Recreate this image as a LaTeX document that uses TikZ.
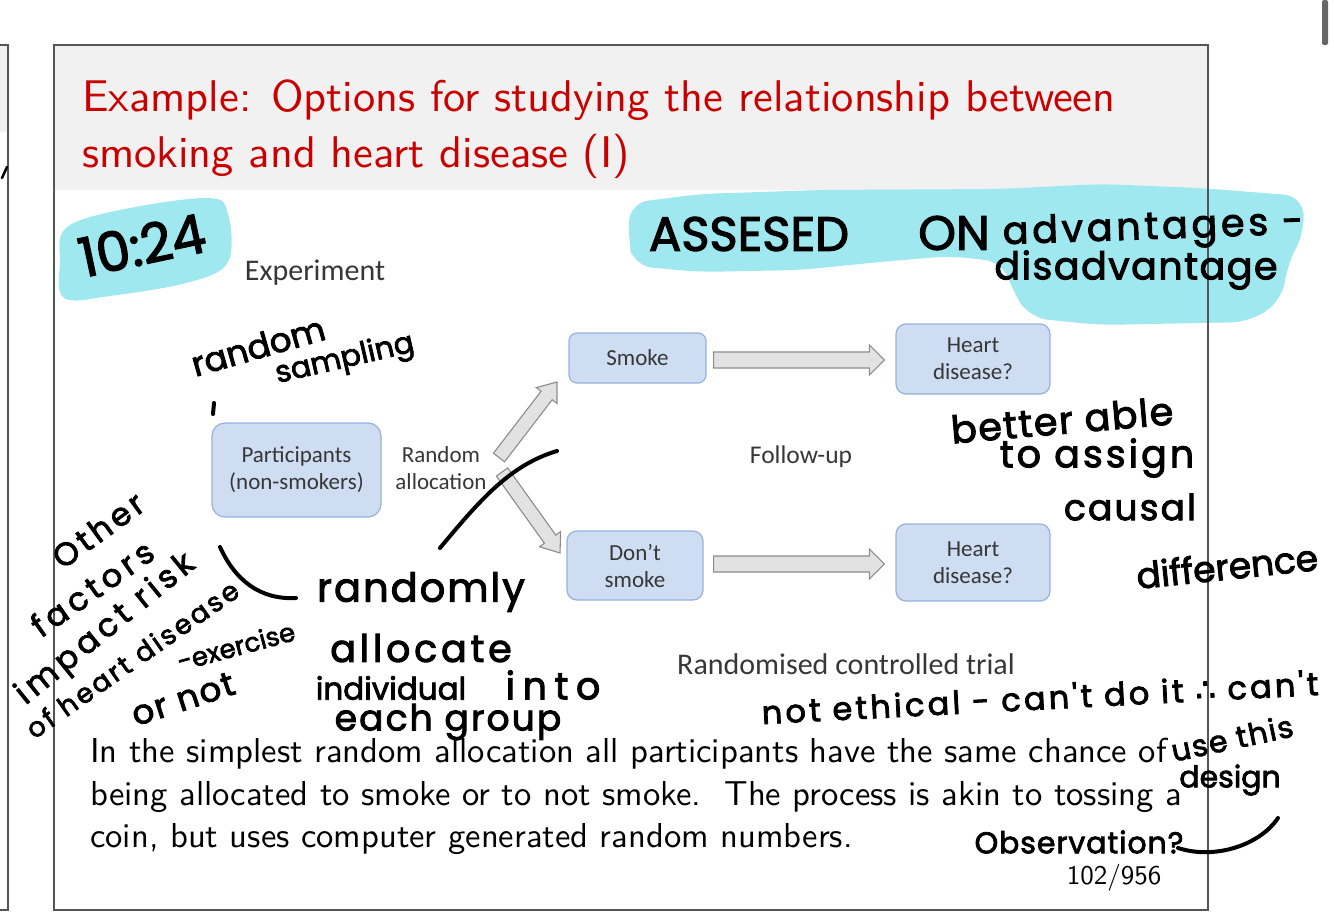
\documentclass[tikz,border=0pt]{standalone}
\usepackage{fontspec}
\usetikzlibrary{calc}
\newfontfamily\carl{Carlito}
\newfontfamily\hand{Poppins}[FakeBold=2.5]
\newfontfamily\dvs{DejaVu Sans}[FakeBold=2.5]
\newfontfamily\lmsten{lmsans10-regular.otf}
\definecolor{titlered}{RGB}{200,0,0}
\definecolor{band}{RGB}{241,241,241}
\definecolor{frame}{RGB}{85,85,85}
\definecolor{boxfill}{RGB}{206,221,242}
\definecolor{boxline}{RGB}{150,178,218}
\definecolor{arrfill}{RGB}{226,226,226}
\definecolor{arrline}{RGB}{140,140,140}
\definecolor{diagtext}{RGB}{55,55,55}
\definecolor{hilite}{RGB}{160,232,240}
\newcommand\blockarr[5]{%
  \coordinate (tmpH) at ($(#2)!#5!(#1)$);
  \draw[blockarrow] ($(#1)!#3!90:(#2)$) -- ($(tmpH)!#3!90:(#2)$) -- ($(tmpH)!#4!90:(#2)$) -- (#2)
     -- ($(tmpH)!#4!-90:(#2)$) -- ($(tmpH)!#3!-90:(#2)$) -- ($(#1)!#3!-90:(#2)$) -- cycle;}
\newcommand\ls[1]{\addfontfeature{LetterSpace=#1}}
\begin{document}
\begin{tikzpicture}[x=1pt,y=-1pt,
  box/.style={draw=boxline, fill=boxfill, line width=1.2pt, align=center, inner sep=0pt,
     text=diagtext, font=\carl\fontsize{23}{27}\selectfont},
  dlabel/.style={text=diagtext, align=center, inner sep=0pt},
  blockarrow/.style={fill=arrfill, draw=arrline, line width=1.1pt, line join=miter},
  hw/.style={font=\hand\fontsize{#1}{#1}\selectfont, inner sep=0pt, text=black},
  hw/.default=34,
  ink/.style={line width=4pt, line cap=round, black},
  titletext/.style={anchor=base west, inner sep=0pt, text=titlered, font=\lmsten\fontsize{44.4}{50}\selectfont},
  body/.style={anchor=base west, inner sep=0pt, font=\lmsten\fontsize{34.6}{40}\selectfont}]
\useasboundingbox (0,0) rectangle (1334,920);
\fill[white] (0,0) rectangle (1334,920);
% neighbouring slide at left and scrollbar
\fill[band] (0,45) rectangle (8,132);
\draw[frame, line width=1.2pt] (0,45) -- (8,45) -- (8,910) -- (0,910);
\fill[gray!80!black, rounded corners=2pt] (1322,0) rectangle (1328,45);
% slide
\fill[band] (54,45) rectangle (1208,190);
\node[titletext] (t1) at (82,112) {Example: Options for studying the relationship between};
\node[titletext] (t2) at (82,168) {smoking and heart disease (I)};
% diagram
\node[dlabel, font=\carl\fontsize{30}{34}\selectfont] (exp) at (315,273) {Experiment};
\node[box, rounded corners=13pt, minimum width=169pt, minimum height=94pt] (part) at (296.5,470) {Participants\\(non-smokers)};
\node[dlabel, font=\carl\fontsize{23}{27}\selectfont] (ralloc) at (441,468) {Random\\allocation};
\node[box, rounded corners=8pt, minimum width=137pt, minimum height=50pt] (smoke) at (637.5,358) {Smoke};
\node[box, rounded corners=10pt, minimum width=154pt, minimum height=70pt] (hd1) at (973,359) {Heart\\disease?};
\node[box, rounded corners=10pt, minimum width=136pt, minimum height=69pt] (dsmoke) at (635,565.5) {Don’t\\smoke};
\node[box, rounded corners=10pt, minimum width=154pt, minimum height=77pt] (hd2) at (973,562.5) {Heart\\disease?};
\node[dlabel, font=\carl\fontsize{25.5}{30}\selectfont] (fu) at (801,457) {Follow-up};
\node[dlabel, font=\carl\fontsize{30}{34}\selectfont] (rct) at (846,664) {Randomised controlled trial};
\coordinate (a1s) at ($(smoke.east)+(7,2)$);
\coordinate (a1e) at ($(hd1.west)+(-11,1)$);
\coordinate (a2s) at ($(dsmoke.east)+(10,-1.5)$);
\coordinate (a2e) at ($(hd2.west)+(-11,1.5)$);
\coordinate (u1s) at (499,457.5);
\coordinate (u1e) at (557,382);
\coordinate (d1s) at (502,472);
\coordinate (d1e) at (560,553);
\blockarr{a1s}{a1e}{8pt}{15pt}{15pt}
\blockarr{a2s}{a2e}{8pt}{15pt}{15pt}
\blockarr{u1s}{u1e}{7pt}{13pt}{17pt}
\blockarr{d1s}{d1e}{7pt}{13pt}{17pt}
% body text
\node[body] (b1) at (90,762) {In the simplest random allocation all participants have the same chance of};
\node[body] (b2) at (90,805) {being allocated to smoke or to not smoke.\ \ The process is akin to tossing a};
\node[body] (b3) at (90,847) {coin, but uses computer generated random numbers.};
\node[inner sep=0pt, font=\lmsten\fontsize{27}{30}\selectfont] (pg) at (1114,878) {102/956};
% highlighter
\fill[hilite] plot[smooth cycle, tension=0.6] coordinates {(66,228) (120,210) (208,198) (228,214) (228,262) (190,282) (110,296) (64,298) (60,262)};
\fill[hilite, rounded corners=18pt] (630,203) -- (700,194) -- (820,190) -- (1000,189) -- (1100,184) -- (1200,188) -- (1302,196) -- (1305,232) -- (1288,262) -- (1282,300) -- (1250,322) -- (1100,325) -- (1030,318) -- (1012,290) -- (1003,262) -- (950,256) -- (880,262) -- (800,270) -- (700,272) -- (634,266) -- (628,240) -- cycle;
% slide frame
\draw[frame, line width=1.4pt] (54,45) rectangle (1208,910);
% handwriting
\node[hw=54, rotate=12] (n1024) at (142,245) {10:24};
\node[hw=48] (hass) at (749,234) {ASSESED};
\node[hw=48] (hon) at (954,233) {ON};
\node[hw=38, rotate=2] (hadv) at (1153,230) {\ls{10}advantages -};
\node[hw=38] (hdis) at (1136,270) {\ls{4}disadvantage};
\node[hw=34, rotate=16] (hrand) at (258,346) {random};
\node[hw=30, rotate=13] (hsamp) at (345,360) {sampling};
\node[hw=32, rotate=36] (hoth) at (98,530) {\ls{12}Other};
\node[hw=32, rotate=35] (hfac) at (92,588) {\ls{15}factors};
\node[hw=32, rotate=39] (himp) at (106,630) {\ls{15}impact risk};
\node[hw=27, rotate=35] (hof) at (132,659) {\ls{10}of heart disease};
\node[hw=26, rotate=15] (hex) at (236,646) {-exercise};
\node[hw=34, rotate=18] (hor) at (183,699) {\ls{5}or not};
\node[hw=40] (hrnd) at (421,592) {\ls{5}randomly};
\node[hw=38] (hall) at (421,648) {\ls{10}allocate};
\node[hw=31] (hind) at (391,688) {individual};
\node[hw=38] (hint) at (553,685) {\ls{20}into};
\node[hw=36] (heach) at (448,722) {\ls{6}each group};
\node[hw=38, rotate=5] (hbet) at (1062,420) {\ls{4}better able};
\node[hw=38] (hto) at (1097,458) {\ls{8}to assign};
\node[hw=36] (hcau) at (1130,507) {\ls{6}causal};
\node[hw=36, rotate=6] (hdif) at (1227,566) {difference};
\node[hw=32, rotate=3] (heth) at (1040,697) {\ls{10}not ethical - can't do it {\dvs ∴} can't};
\node[hw=30, rotate=12] (huse) at (1232,738) {\ls{5}use this};
\node[hw=30] (hdes) at (1230,780) {design};
\node[hw=30] (hobs) at (1079,842) {\ls{3}Observation?};
\draw[ink] (220,547) .. controls (235,580) and (260,600) .. (296,598);
\draw[ink] (440,548) .. controls (480,500) and (510,465) .. (557,451);
\draw[ink] (1178,848) .. controls (1215,860) and (1260,845) .. (1278,818);
\draw[ink] (214,403) -- (213,414);
\draw[ink, line width=2.5pt] (2,178) -- (7,167);
\end{tikzpicture}
\end{document}
